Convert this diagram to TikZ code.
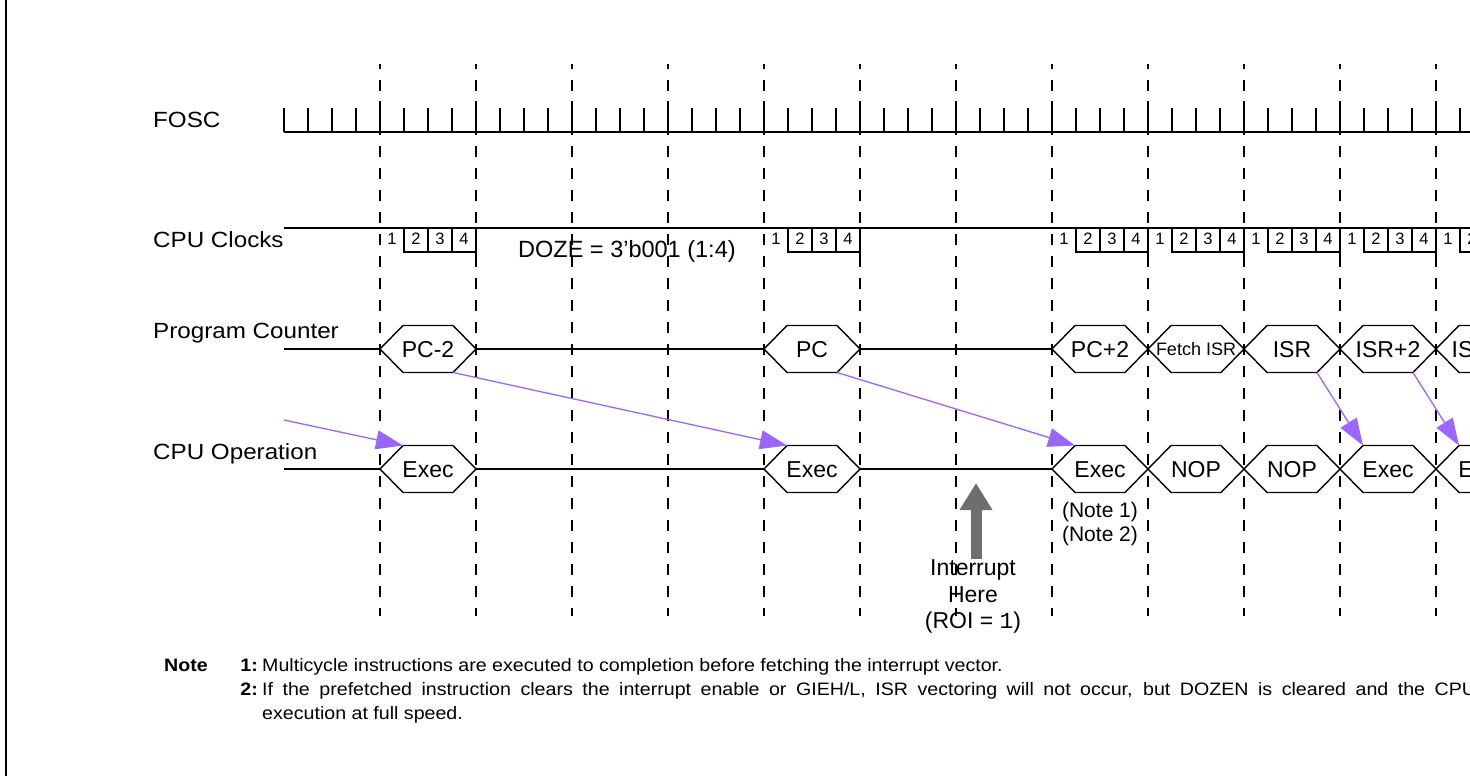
\documentclass[tikz,border=0pt]{standalone}
\usepackage{fontspec}
\setmainfont{Liberation Sans}
\setmonofont{Liberation Mono}
\newfontfamily\widefont[FakeStretch=1.1]{Liberation Sans}
\newfontfamily\notefont[FakeStretch=1.09]{Liberation Sans}
\usetikzlibrary{arrows.meta}
\definecolor{arrowpurple}{HTML}{9966FF}
\definecolor{intgray}{HTML}{6E6E6E}
\tikzset{
  sig/.style={line width=2pt, black},
  dashline/.style={line width=2pt, dash pattern=on 11pt off 11pt, dash phase=6pt},
  hexline/.style={line width=1.4pt, black},
  boxline/.style={line width=1.6pt, black},
  lbl/.style={inner sep=0pt, anchor=base west, font=\widefont\fontsize{22}{26}\selectfont},
  hextext/.style={inner sep=0pt, anchor=base, font=\fontsize{23}{27}\selectfont},
  smalltext/.style={inner sep=0pt, anchor=base, font=\fontsize{18}{22}\selectfont},
  clk/.style={inner sep=0pt, anchor=base, font=\fontsize{16.5}{20}\selectfont},
  notetext/.style={inner sep=0pt, anchor=base west, font=\notefont\fontsize{18}{22}\selectfont},
  notebold/.style={inner sep=0pt, anchor=base west, font=\notefont\fontsize{18}{22}\selectfont\bfseries},
  noteref/.style={inner sep=0pt, anchor=base, font=\fontsize{21}{25}\selectfont},
  parr/.style={arrowpurple, line width=1.3pt, -{Triangle[length=27pt,width=19pt]}},
}
\newcommand\hexcell[4]{%
  \draw[hexline] (#1,#2) -- ++(23,-23.5) -- ++(50,0) -- ++(23,23.5) -- ++(-23,23.5) -- ++(-50,0) -- cycle;
  \node[hextext] (#3) at (#1+48,#2+8) {#4};
  \coordinate (#3-tl) at (#1+23,#2-23.5);
  \coordinate (#3-br) at (#1+73,#2+23.5);
}
\begin{document}
\begin{tikzpicture}[x=1pt,y=-1pt]
\useasboundingbox (0,0) rectangle (1470,776);
\clip (0,0) rectangle (1470,776);
\fill[white] (0,0) rectangle (1470,776);
% left border
\draw[line width=2pt] (6,0) -- (6,776);

% dashed guides
\foreach \k in {0,...,11} {
  \draw[dashline] (380+96*\k,64) -- (380+96*\k,616);
}

% labels
\node[lbl] (lfosc) at (153,127) {FOSC};
\node[lbl] (lclk) at (153,247) {CPU Clocks};
\node[lbl] (lpc) at (153,338) {Program Counter};
\node[lbl] (lop) at (153,459) {CPU Operation};

% FOSC
\draw[sig] (284,132) -- (1472,132);
\foreach \k in {0,...,49} {
  \draw[sig] (284+24*\k,132) -- (284+24*\k,108);
}
\foreach \k in {0,...,11} {
  \draw[sig] (380+96*\k,132) -- (380+96*\k,101);
}

% CPU clocks
\draw[sig] (284,228) -- (1472,228);
\foreach \x in {380,764,1052,1148,1244,1340,1436} {
  \node[clk] (ca\x) at (\x+12,244) {1};
  \draw[boxline] (\x+24,228) -- (\x+24,252) -- (\x+96,252);
  \draw[boxline] (\x+48,228) -- (\x+48,252);
  \draw[boxline] (\x+72,228) -- (\x+72,252);
  \draw[boxline] (\x+96,228) -- (\x+96,259);
  \node[clk] (cb\x) at (\x+36,244) {2};
  \node[clk] (cc\x) at (\x+60,244) {3};
  \node[clk] (cd\x) at (\x+84,244) {4};
}
\node[inner sep=0pt, anchor=base west, font=\fontsize{23.5}{27}\selectfont] (doze) at (518,257) {DOZE = 3’b001 (1:4)};

% Program counter row
\draw[sig] (284,349) -- (380,349);
\draw[sig] (476,349) -- (764,349);
\draw[sig] (860,349) -- (1052,349);
\hexcell{380}{349}{pcm2}{PC-2}
\hexcell{764}{349}{pc}{PC}
\hexcell{1052}{349}{pcp2}{PC+2}
\draw[hexline] (1148,349) -- ++(23,-23.5) -- ++(50,0) -- ++(23,23.5) -- ++(-23,23.5) -- ++(-50,0) -- cycle;
\node[smalltext] (fisr) at (1196,355) {Fetch ISR};
\hexcell{1244}{349}{isr}{ISR}
\hexcell{1340}{349}{isrp2}{ISR+2}
\hexcell{1436}{349}{isrp4}{ISR+4}

% CPU operation row
\draw[sig] (284,469) -- (380,469);
\draw[sig] (476,469) -- (764,469);
\draw[sig] (860,469) -- (1052,469);
\hexcell{380}{469}{ex1}{Exec}
\hexcell{764}{469}{ex2}{Exec}
\hexcell{1052}{469}{ex3}{Exec}
\hexcell{1148}{469}{nop1}{NOP}
\hexcell{1244}{469}{nop2}{NOP}
\hexcell{1340}{469}{ex4}{Exec}
\hexcell{1436}{469}{ex5}{Exec}

% purple arrows
\coordinate (opin) at (284,420);
\draw[parr] (opin) -- (ex1-tl);
\draw[parr] (pcm2-br) -- (ex2-tl);
\draw[parr] (pc-br) -- (ex3-tl);
\draw[parr] (isr-br) -- (ex4-tl);
\draw[parr] (isrp2-br) -- (ex5-tl);

% note refs
\node[noteref] (n1) at (1100,517) {(Note 1)};
\node[noteref] (n2) at (1100,541) {(Note 2)};

% interrupt
\node[hextext] (int1) at (973,575) {Interrupt};
\node[hextext] (int2) at (973,602) {Here};
\node[hextext] (int3) at (973,628) {(ROI = {\ttfamily 1})};
\coordinate (intbot) at (976,559);
\coordinate (inttop) at (976,483);
\draw[intgray, line width=11pt, -{Triangle[length=27pt,width=31pt]}] (intbot) -- (inttop);

% notes
\node[notebold] (nt) at (164,671) {Note};
\node[notebold, anchor=base east] (nk1) at (258,671) {1:};
\node[notetext] (nl1) at (262,671) {Multicycle instructions are executed to completion before fetching the interrupt vector.};
\node[notebold, anchor=base east] (nk2) at (258,695) {2:};
\node[notetext] (nl2) at (262,695) {\makebox[1214pt][s]{If the prefetched instruction clears the interrupt enable or GIEH/L, ISR vectoring will not occur, but DOZEN is cleared and the CPU}};
\node[notetext] (nl3) at (262,719) {execution at full speed.};
\end{tikzpicture}
\end{document}
